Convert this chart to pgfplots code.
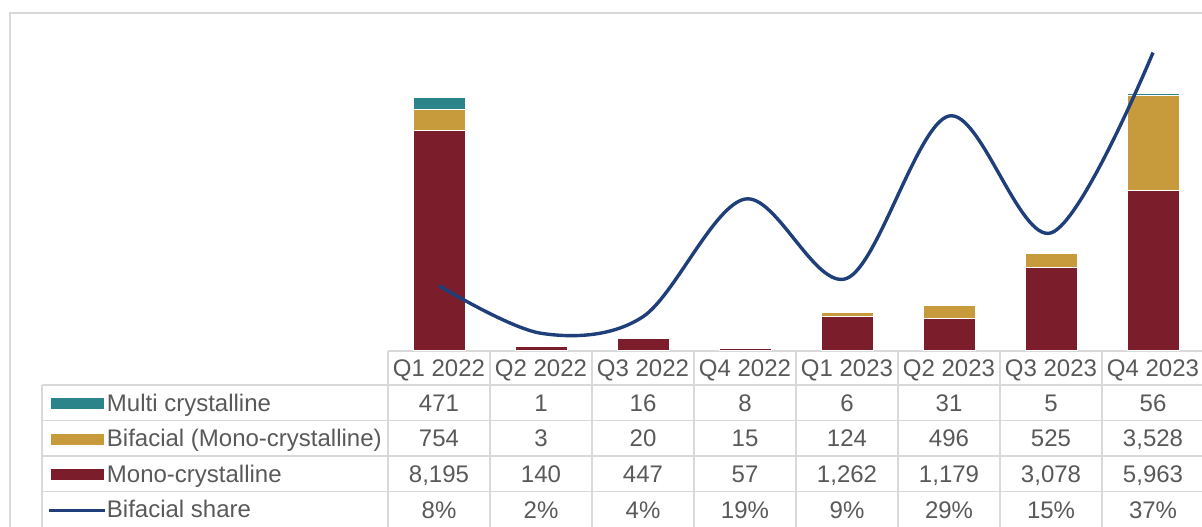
\documentclass[border=0pt]{standalone}
\usepackage{fontspec}
\setmainfont{Liberation Sans}
\usepackage{pgfplots}
\pgfplotsset{compat=1.18}
\definecolor{mono}{HTML}{7B1D2A}
\definecolor{bif}{HTML}{C79A3B}
\definecolor{multi}{HTML}{2A8489}
\definecolor{share}{HTML}{1F3F7A}
\definecolor{gridc}{HTML}{D9D9D9}
\definecolor{txt}{HTML}{595959}
\begin{document}
\begin{tikzpicture}[font=\fontsize{12}{14.4}\selectfont]
% outer chart border and data table grid (pixel units)
\begin{scope}[x=0.5pt,y=-0.5pt]
  \draw[gridc, line width=1pt] (10,530) -- (10,13) -- (1210,13);
  \draw[gridc, line width=0.75pt] (388,351) -- (1210,351);
  \foreach \yy in {385,420.5,456,491.5} \draw[gridc, line width=0.75pt] (42,\yy) -- (1210,\yy);
  \draw[gridc, line width=0.75pt] (42,385) -- (42,530);
  \foreach \k in {0,...,8} \draw[gridc, line width=0.75pt] (388+102*\k,351) -- (388+102*\k,530);
  \foreach \lab [count=\i from 0] in {Q1 2022,Q2 2022,Q3 2022,Q4 2022,Q1 2023,Q2 2023,Q3 2023,Q4 2023}
    \node[text=txt, anchor=base, inner sep=0pt] at (439+102*\i,376.5) {\lab};
  \foreach \v [count=\i from 0] in {471,1,16,8,6,31,5,56}
    \node[text=txt, anchor=base, inner sep=0pt] at (439+102*\i,411) {\v};
  \foreach \v [count=\i from 0] in {754,3,20,15,124,496,525,{3,528}}
    \node[text=txt, anchor=base, inner sep=0pt] at (439+102*\i,446.5) {\v};
  \foreach \v [count=\i from 0] in {{8,195},140,447,57,{1,262},{1,179},{3,078},{5,963}}
    \node[text=txt, anchor=base, inner sep=0pt] at (439+102*\i,482) {\v};
  \foreach \v [count=\i from 0] in {8,2,4,19,9,29,15,37}
    \node[text=txt, anchor=base, inner sep=0pt] at (439+102*\i,518) {\v\%};
\end{scope}
\begin{axis}[
  at={(194pt,-175pt)}, anchor=south west,
  scale only axis, width=408pt, height=161pt,
  xmin=-0.5, xmax=7.5, ymin=0, ymax=12000,
  hide axis, clip=false,
  ybar stacked, bar width=26pt,
  reverse legend,
  legend style={draw=none, fill=none, inner sep=0pt, outer sep=0pt,
    at={(axis description cs:-0.4167,-0.1087)}, anchor=north west,
    row sep=0pt, column sep=0pt,
    nodes={inner sep=0pt, text height=13.2pt, text depth=4.55pt, text=txt,
      font=\fontsize{12}{14.4}\selectfont}},
  legend cell align=left,
]
\addlegendimage{legend image code/.code={\draw[share, line width=1.5pt] (-1pt,-0.45pt) -- (27pt,-0.45pt);}}
\addlegendentry{Bifacial share}
\addplot[fill=mono, draw=white, line width=0.4pt,
  legend image code/.code={\fill[mono] (0pt,-2.95pt) rectangle (26pt,2.05pt);}]
  coordinates {(0,8195) (1,140) (2,447) (3,57) (4,1262) (5,1179) (6,3078) (7,5963)};
\addlegendentry{Mono-crystalline}
\addplot[fill=bif, draw=white, line width=0.4pt,
  legend image code/.code={\fill[bif] (0pt,-2.95pt) rectangle (26pt,2.05pt);}]
  coordinates {(0,754) (1,3) (2,20) (3,15) (4,124) (5,496) (6,525) (7,3528)};
\addlegendentry{Bifacial (Mono-crystalline)}
\addplot[fill=multi, draw=white, line width=0.4pt,
  legend image code/.code={\fill[multi] (0pt,-2.95pt) rectangle (26pt,2.05pt);}]
  coordinates {(0,471) (1,1) (2,16) (3,8) (4,6) (5,31) (6,5) (7,56)};
\addlegendentry{Multi crystalline}
\end{axis}
\begin{axis}[
  at={(194pt,-175pt)}, anchor=south west,
  scale only axis, width=408pt, height=161pt,
  xmin=-0.5, xmax=7.5, ymin=0, ymax=40,
  hide axis, clip=false,
]
\addplot[share, line width=1.7pt, smooth, tension=0.55, no markers]
  coordinates {(0,8.00) (1,2.08) (2,4.14) (3,18.75) (4,8.91) (5,29.07) (6,14.55) (7,36.95)};
\end{axis}
\pgfresetboundingbox
\path[use as bounding box] (0,0) rectangle (601pt,-263pt);
\end{tikzpicture}
\end{document}
